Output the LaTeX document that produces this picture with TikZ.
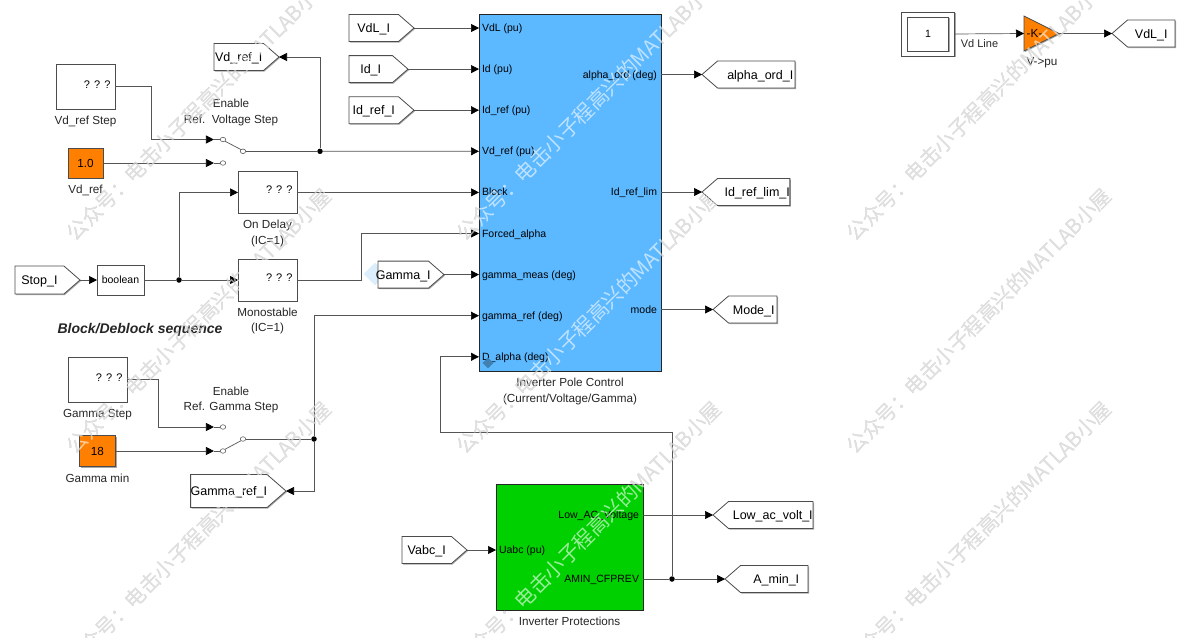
\documentclass[tikz,border=0pt]{standalone}
\usepackage{fontspec}
\setmainfont{Liberation Sans}
\newfontfamily\cjk{Noto Sans CJK SC}
\usepackage{xcolor}
\usetikzlibrary{positioning, arrows.meta, shapes.symbols, shapes.geometric, shadows}
\definecolor{wirec}{HTML}{555555}
\definecolor{polec}{HTML}{5CB8FF}
\definecolor{protc}{HTML}{00D000}
\definecolor{constc}{HTML}{FF8000}
\definecolor{hlc}{HTML}{DCEEFC}
\newcommand{\wmtext}{公众号：电击小子程高兴的MATLAB小屋}

\begin{document}
\begin{tikzpicture}[
  x=1pt, y=-1pt,
  blockshadow/.style={drop shadow={shadow xshift=1pt, shadow yshift=-1pt, fill=black, opacity=.35}},
  block/.style={draw=black!70, fill=white, line width=.8pt, inner sep=0pt, outer sep=0pt, blockshadow,
                font=\fontsize{10.5}{13}\selectfont},
  qbox/.style={block, minimum width=59pt, align=flush right, text width=50pt, text height=8pt, text depth=5pt,
               font=\fontsize{11}{13}\selectfont},
  constbox/.style={block, fill=constc, minimum width=35pt, minimum height=30pt, font=\fontsize{11.7}{13}\selectfont},
  bigblock/.style={block, draw=black!85, line width=1pt},
  tagr/.style={signal, signal to=east, signal from=nowhere, signal pointer angle=82, draw=black!70, fill=white,
               line width=.8pt, inner sep=0pt, outer sep=0pt, minimum height=27pt, blockshadow, text height=9pt, text depth=0pt,
               font=\fontsize{12.5}{15}\selectfont},
  tagl/.style={tagr, signal to=west},
  lbl/.style={align=center, inner sep=0pt, font=\fontsize{11.7}{15.6}\selectfont, text=black!85},
  portin/.style={anchor=west, inner xsep=3pt, inner ysep=0pt, outer sep=0pt, text height=7pt, text depth=0pt, font=\fontsize{10.5}{12}\selectfont},
  portout/.style={anchor=east, inner xsep=4pt, inner ysep=0pt, outer sep=0pt, text height=7pt, text depth=0pt, font=\fontsize{10.5}{12}\selectfont},
  swnode/.style={ellipse, draw=wirec, line width=.6pt, inner sep=0pt, minimum width=5.5pt, minimum height=4.5pt},
  dot/.style={circle, fill=black, inner sep=0pt, minimum size=5.5pt},
  wire/.style={draw=wirec, line width=.7pt},
  arrow/.style={wire, -{Triangle[length=8pt, width=8pt, color=black]}},
  wmark/.style={rotate=45, inner sep=0pt, font=\cjk\fontsize{20.5}{22}\selectfont}]
  \useasboundingbox (0,0) rectangle (1177,637);

  % watermark under the blocks
  \foreach \wx in {199,589,979}
    \foreach \wy in {108,321,534}
      \node[wmark, text=black!30] (wb\wx\wy) at (\wx,\wy) {\wmtext};
  \node[diamond, fill=hlc, inner sep=0pt, minimum size=23pt] (hlgamma) at (375,274) {};

  % pole control and its ports
  \node[bigblock, fill=polec, minimum width=182pt, minimum height=357pt] (pole) at (570,192.5) {};
  \node[portin] (pVdL) at (479,28) {VdL (pu)};
  \node[portin, below=41.1pt of pVdL.west, anchor=west] (pId) {Id (pu)};
  \node[portin, below=41.1pt of pId.west, anchor=west] (pIdref) {Id\_ref (pu)};
  \node[portin, below=41.1pt of pIdref.west, anchor=west] (pVdref) {Vd\_ref (pu)};
  \node[portin, below=41.1pt of pVdref.west, anchor=west] (pBlock) {Block};
  \node[portin, below=41.1pt of pBlock.west, anchor=west] (pForced) {Forced\_alpha};
  \node[portin, below=41.1pt of pForced.west, anchor=west] (pGmeas) {gamma\_meas (deg)};
  \node[portin, below=41.1pt of pGmeas.west, anchor=west] (pGref) {gamma\_ref (deg)};
  \node[portin, below=41.1pt of pGref.west, anchor=west] (pDalpha) {D\_alpha (deg)};
  \node[portout] (pAlpha) at (661,74.5) {alpha\_ord (deg)};
  \node[portout, below=117.5pt of pAlpha.east, anchor=east] (pLim) {Id\_ref\_lim};
  \node[portout, below=117.5pt of pLim.east, anchor=east] (pMode) {mode};
  \node[lbl, below=7pt of pole] (polename) {Inverter Pole Control\\(Current/Voltage/Gamma)};
  \node[diamond, fill=polec!70!black, inner sep=0pt, minimum size=11pt] (hlalpha) at (488,363) {};

  % protections
  \node[bigblock, fill=protc, minimum width=147pt, minimum height=126pt] (prot) at (569.5,547) {};
  \node[portin] (pUabc) at (496,550) {Uabc (pu)};
  \node[portout] (pLow) at (643,515) {Low\_AC\_Voltage};
  \node[portout, below=64pt of pLow.east, anchor=east] (pAmin) {AMIN\_CFPREV};
  \node[lbl, below=7pt of prot] (protname) {Inverter Protections};

  % tags on the left of the pole block
  \node[tagr, minimum width=65pt, left=65pt of pVdL] (tagVdL) {VdL\_I};
  \node[tagr, minimum width=59pt, left=71pt of pId] (tagId) {Id\_I};
  \node[tagr, minimum width=65pt, left=65pt of pIdref] (tagIdref) {Id\_ref\_I};
  \node[tagr, minimum width=66pt, left=35pt of pGmeas] (tagGamma) {\makebox[0pt]{Gamma\_I}};
  \node[tagr, minimum width=65pt, left=29pt of pUabc.west] (tagVabc) {Vabc\_I};
  \node[tagr, minimum width=65pt, anchor=east] (tagVdref) at (279,57) {Vd\_ref\_I};
  \node[tagr, minimum width=95pt, minimum height=33pt, anchor=east] (tagGref) at (286,491) {Gamma\_ref\_I};

  % tags on the right
  \node[tagl, minimum width=93pt, right=41pt of pAlpha] (tagAlpha) {\hspace{8pt}alpha\_ord\_I};
  \node[tagl, minimum width=87pt, right=41pt of pLim] (tagLim) {\hspace{7pt}Id\_ref\_lim\_I};
  \node[tagl, minimum width=64pt, right=52pt of pMode] (tagMode) {\hspace{2pt}Mode\_I};
  \node[tagl, minimum width=100pt, right=70pt of pLow] (tagLow) {\hspace{4pt}Low\_ac\_volt\_I};
  \node[tagl, minimum width=83pt, right=82pt of pAmin] (tagAmin) {\hspace{4pt}A\_min\_I};

  % voltage reference and its switch
  \node[qbox, minimum height=45pt] (vdstep) at (85.5,86.5) {? ? ?};
  \node[lbl, below=6.5pt of vdstep] (vdstepname) {Vd\_ref Step};
  \node[constbox, below=39pt of vdstep] (vdconst) {1.0};
  \node[lbl, below=7pt of vdconst] (vdconstname) {Vd\_ref};
  \node[swnode] (swvA) at (223,139.5) {};
  \node[swnode] (swvB) at (223,163) {};
  \node[swnode] (swvC) at (243,151.3) {};
  \coordinate[left=6pt of swvA] (swvAin);
  \coordinate[left=6pt of swvB] (swvBin);
  \node[lbl] (swvname) at (231,112.5) {Enable\\Ref.\ \ Voltage Step};
  \node[dot] (jvd) at (320,151.3) {};

  % block sequence
  \node[qbox, minimum height=42pt, left=182pt of pBlock] (ondelay) {? ? ?};
  \node[lbl, below=6.5pt of ondelay] (ondelayname) {On Delay\\(IC=1)};
  \node[block, minimum width=47pt, minimum height=30pt] (bool) at (120.5,280) {boolean};
  \node[tagr, minimum width=65pt, minimum height=28pt, left=17pt of bool] (tagStop) {Stop\_I};
  \node[qbox, minimum height=42pt, right=94pt of bool] (mono) {? ? ?};
  \node[lbl, below=6.5pt of mono] (mononame) {Monostable\\(IC=1)};
  \node[dot] (jstop) at (179,280) {};
  \node[inner sep=0pt, font=\fontsize{14}{16}\selectfont\bfseries\itshape, text=black!85] (seqname) at (140,330) {Block/Deblock sequence};

  % gamma reference and its switch
  \node[qbox, minimum height=45pt] (gstep) at (97.5,379.5) {? ? ?};
  \node[lbl, below=7.5pt of gstep] (gstepname) {Gamma Step};
  \node[constbox, minimum width=36pt, minimum height=31pt, below=33.5pt of gstep] (gconst) {18};
  \node[lbl, below=7pt of gconst] (gconstname) {Gamma min};
  \node[swnode] (swgA) at (223,427) {};
  \node[swnode] (swgB) at (223,451) {};
  \node[swnode] (swgC) at (243,439) {};
  \coordinate[left=6pt of swgA] (swgAin);
  \coordinate[left=6pt of swgB] (swgBin);
  \node[lbl] (swgname) at (231,400) {Enable\\Ref. Gamma Step};
  \node[dot] (jg) at (314,439) {};
  \node[dot] (jamin) at (672,579) {};

  % line voltage
  \node[block, minimum width=53pt, minimum height=44pt] (vdline) at (928,34) {};
  \node[block, minimum width=41pt, minimum height=34pt, drop shadow={opacity=0}, line width=.6pt] (vdlinein) at (vdline.center) {1};
  \node[isosceles triangle, isosceles triangle stretches, draw=black!70, fill=constc, line width=.8pt, inner sep=0pt,
        outer sep=0pt, minimum width=35pt, minimum height=35pt, blockshadow, anchor=west] (gain) at (1024,33.5) {};
  \node[font=\fontsize{11.7}{13}\selectfont, inner sep=0pt] (gaintext) at (1034.5,33.5) {-K-};
  \node[lbl, font=\fontsize{11.7}{13}\selectfont] (gainname) at (1042,63) {V->pu};
  \node[tagl, minimum width=63pt, anchor=west] (tagVdLout) at (1112,33.5) {VdL\_I\hspace{4pt}};

  % connectors
  \draw[arrow] (tagVdL.east) -- (pVdL.west);
  \draw[arrow] (tagId.east) -- (pId.west);
  \draw[arrow] (tagIdref.east) -- (pIdref.west);
  \draw[arrow] (tagGamma.east) -- (pGmeas.west);
  \draw[arrow] (tagVabc.east) -- (pUabc.west);
  \draw[arrow] (pAlpha.east) -- (tagAlpha.west);
  \draw[arrow] (pLim.east) -- (tagLim.west);
  \draw[arrow] (pMode.east) -- (tagMode.west);
  \draw[arrow] (pLow.east) -- (tagLow.west);
  \draw[arrow] (jamin) -- (tagAmin.west);
  \draw[wire] (pAmin.east) -- (jamin);
  \draw[arrow] (vdstep.east) -- ++(36,0) |- (swvAin);
  \draw[arrow] (vdconst.east) -- (swvBin);
  \draw[wire] (swvAin) -- (swvA.west);
  \draw[wire] (swvBin) -- (swvB.west);
  \draw[wire] (swvA.south east) -- (swvC.north west);
  \draw[wire] (swvC.east) -- (jvd);
  \draw[arrow] (jvd) -- (pVdref.west);
  \draw[arrow] (jvd) |- (tagVdref.east);
  \draw[arrow] (tagStop.east) -- (bool.west);
  \draw[wire] (bool.east) -- (jstop);
  \draw[arrow] (jstop) -- (mono.west);
  \draw[arrow] (jstop) |- (ondelay.west);
  \draw[arrow] (ondelay.east) -- (pBlock.west);
  \draw[arrow] (mono.east) -- ++(64,0) |- (pForced.west);
  \draw[arrow] (gstep.east) -- ++(31,0) |- (swgAin);
  \draw[arrow] (gconst.east) -- (swgBin);
  \draw[wire] (swgAin) -- (swgA.west);
  \draw[wire] (swgBin) -- (swgB.west);
  \draw[wire] (swgB.north east) -- (swgC.south west);
  \draw[wire] (swgC.east) -- (jg);
  \draw[arrow] (jg) |- (pGref.west);
  \draw[arrow] (jg) |- (tagGref.east);
  \draw[arrow] (jamin) |- (440,432) |- (pDalpha.west);
  \draw[arrow] (vdline.east) -- node[lbl, font=\fontsize{11}{13}\selectfont, pos=.36, below=5pt] (vdlinename) {Vd Line} (gain.west);
  \draw[arrow] (gain.east) -- (tagVdLout.west);

  % watermark over the blocks
  \foreach \wx in {199,589,979}
    \foreach \wy in {108,321,534}
      \node[wmark, text=white, text opacity=.6] (wt\wx\wy) at (\wx,\wy) {\wmtext};
\end{tikzpicture}
\end{document}
